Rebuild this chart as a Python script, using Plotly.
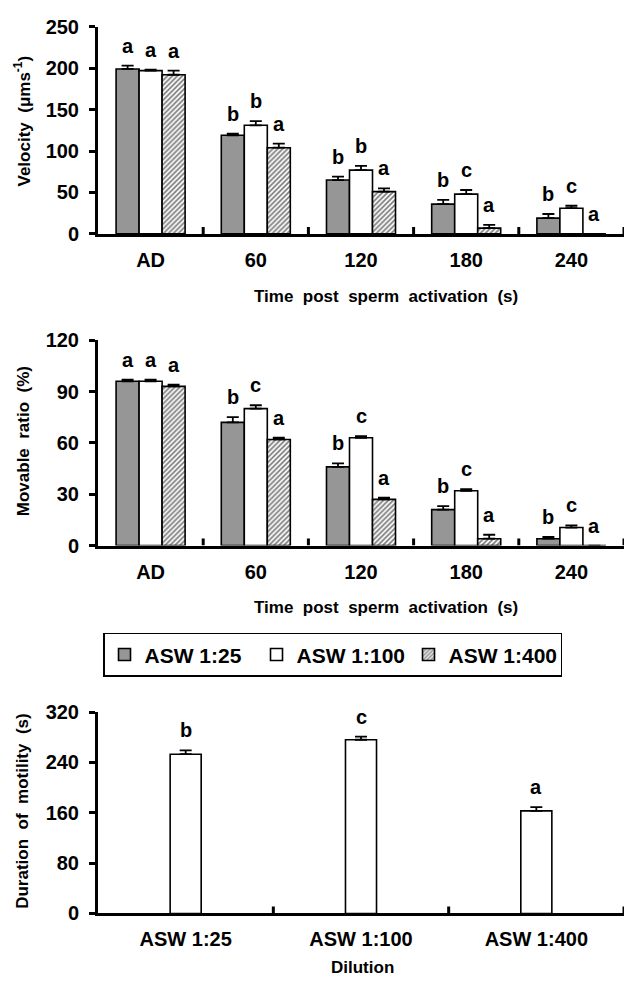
import plotly.graph_objects as go

W, H = 629, 989

categories = ["AD", "60", "120", "180", "240"]
series_names = ["ASW 1:25", "ASW 1:100", "ASW 1:400"]

vel_25 = [199, 119, 65, 36, 19]
vel_25_err = [4, 2, 4, 5, 5]
vel_100 = [197, 131, 77, 48, 31]
vel_100_err = [1, 5, 5, 5, 3]
vel_400 = [192, 104, 51, 7, 0]
vel_400_err = [5, 5, 4, 4, 0]
vel_letters = [["a", "b", "b", "b", "b"], ["a", "b", "b", "c", "c"], ["a", "a", "a", "a", "a"]]

mov_25 = [96, 72, 46, 21, 4]
mov_25_err = [1, 3, 2, 2, 1]
mov_100 = [96, 80, 63, 32, 10.5]
mov_100_err = [1, 2, 1, 1, 1.3]
mov_400 = [93, 62, 27, 4, 0]
mov_400_err = [1, 1, 1, 2.3, 0]
mov_letters = [["a", "b", "b", "b", "b"], ["a", "c", "c", "c", "c"], ["a", "a", "a", "a", "a"]]

dilutions = ["ASW 1:25", "ASW 1:100", "ASW 1:400"]
duration = [253, 276, 163]
duration_err = [6, 5, 6]
duration_letters = ["b", "c", "a"]

FONT = "Liberation Sans, Arial, sans-serif"
GRAY = "#969696"

# layout geometry (pixels)
X0, X1 = 98, 624
panels = {
    "top": (16, 228),
    "mid": (336.7, 546.7),
    "bot": (717, 923),
}
GROUP_FRAC = 0.656   # share of each category taken by a bar group
BAR_W = GROUP_FRAC / 3
SINGLE_W = 0.177


def ydom(top, bot):
    return [1 - bot / H, 1 - top / H]


fig = go.Figure()

styles = [
    dict(color=GRAY, line=dict(color="black", width=1.6)),
    dict(color="white", line=dict(color="black", width=1.6)),
    dict(color="white", line=dict(color="black", width=1.6),
         pattern=dict(shape="/", fgcolor="black", bgcolor="white", size=3.5, solidity=0.5)),
]

grouped = [
    ("x", "y", [vel_25, vel_100, vel_400], [vel_25_err, vel_100_err, vel_400_err], vel_letters),
    ("x2", "y2", [mov_25, mov_100, mov_400], [mov_25_err, mov_100_err, mov_400_err], mov_letters),
]

LETTER_FONT = dict(family=FONT, size=20, color="black", weight="bold")
annotations = []
shapes = []

for k, (xa, ya, vals, errs, letters) in enumerate(grouped):
    for j in range(3):
        xpos = [i + (j - 1) * BAR_W for i in range(len(categories))]
        fig.add_trace(go.Bar(
            x=xpos, y=vals[j], width=BAR_W, name=series_names[j], xaxis=xa, yaxis=ya,
            marker=styles[j], showlegend=(k == 0),
            error_y=dict(type="data", array=errs[j], arrayminus=[0] * len(errs[j]),
                         symmetric=False, color="black", thickness=1.8, width=6),
        ))
        for i in range(len(categories)):
            annotations.append(dict(
                x=xpos[i], y=vals[j][i] + errs[j][i], xref=xa, yref=ya,
                text=letters[j][i], showarrow=False, yanchor="bottom", yshift=7,
                font=LETTER_FONT,
            ))

xpos3 = list(range(len(dilutions)))
fig.add_trace(go.Bar(
    x=xpos3, y=duration, xaxis="x3", yaxis="y3", showlegend=False,
    width=SINGLE_W, marker=styles[1],
    error_y=dict(type="data", array=duration_err, arrayminus=[0] * 3, symmetric=False,
                 color="black", thickness=1.8, width=6),
))
for i in xpos3:
    annotations.append(dict(
        x=i, y=duration[i] + duration_err[i], xref="x3", yref="y3",
        text=duration_letters[i], showarrow=False, yanchor="bottom", yshift=7,
        font=LETTER_FONT,
    ))

# category-boundary tick marks (pointing up from the x axis)
for xa, ya, n in [("x", "y", len(categories)), ("x2", "y2", len(categories)),
                  ("x3", "y3", len(dilutions))]:
    for i in range(n):
        shapes.append(dict(
            type="line", xref=xa, yref=ya, x0=i + 0.5, x1=i + 0.5,
            ysizemode="pixel", yanchor=0, y0=0, y1=7,
            line=dict(color="black", width=3),
        ))

tickfont = dict(family=FONT, size=20, color="black", weight="bold")
titlefont = dict(family=FONT, size=17, color="black", weight="bold")


def xaxis_def(anchor, labels):
    n = len(labels)
    return dict(
        domain=[X0 / W, X1 / W], anchor=anchor, range=[-0.5, n - 0.5],
        tickmode="array", tickvals=list(range(n)), ticktext=labels, ticks="",
        showline=True, linewidth=3, linecolor="black",
        tickfont=tickfont, showgrid=False, zeroline=False, ticklabelstandoff=6,
    )


def yaxis_def(anchor, top, bot, rng, dtick):
    return dict(
        domain=ydom(top, bot), anchor=anchor, range=rng, dtick=dtick, tick0=0,
        showline=True, linewidth=3, linecolor="black",
        ticks="outside", ticklen=6, tickwidth=3, tickcolor="black",
        tickfont=tickfont, showgrid=False, zeroline=False, ticklabelstandoff=6,
    )


t_top, t_bot = panels["top"]
m_top, m_bot = panels["mid"]
b_top, b_bot = panels["bot"]


def spaced(s):
    return s.replace(" ", "\u00a0\u00a0")


title_annots = [
    dict(x=23 / W, y=1 - 113 / H, text=spaced("Velocity (\u03bcms<sup>-1</sup>)"), textangle=-90),
    dict(x=23 / W, y=1 - 440 / H, text=spaced("Movable ratio (%)"), textangle=-90),
    dict(x=23 / W, y=1 - 818 / H, text=spaced("Duration of motility (s)"), textangle=-90),
    dict(x=386 / W, y=1 - 292 / H, text=spaced("Time post sperm activation (s)"), textangle=0),
    dict(x=386 / W, y=1 - 610 / H, text=spaced("Time post sperm activation (s)"), textangle=0),
    dict(x=362 / W, y=1 - 978 / H, text="Dilution", textangle=0),
]
for a in title_annots:
    a.update(xref="paper", yref="paper", showarrow=False, xanchor="center", yanchor="middle",
             font=titlefont)
    annotations.append(a)

fig.update_layout(
    width=W, height=H, margin=dict(l=0, r=0, t=0, b=0),
    paper_bgcolor="white", plot_bgcolor="white",
    barmode="overlay",
    xaxis=xaxis_def("y", categories),
    yaxis=yaxis_def("x", t_top, t_bot, [0, 250], 50),
    xaxis2=xaxis_def("y2", categories),
    yaxis2=yaxis_def("x2", m_top, m_bot, [0, 120], 30),
    xaxis3=xaxis_def("y3", dilutions),
    yaxis3=yaxis_def("x3", b_top, b_bot, [0, 320], 80),
    annotations=annotations,
    shapes=shapes,
    legend=dict(
        orientation="h", x=103 / W, xanchor="left", y=1 - 636 / H, yanchor="top",
        bordercolor="black", borderwidth=1.5, bgcolor="white",
        font=dict(family=FONT, size=21, color="black", weight="bold"),
        entrywidth=107, entrywidthmode="pixels", traceorder="normal",
    ),
    showlegend=True,
)

fig.write_html("out.html")
